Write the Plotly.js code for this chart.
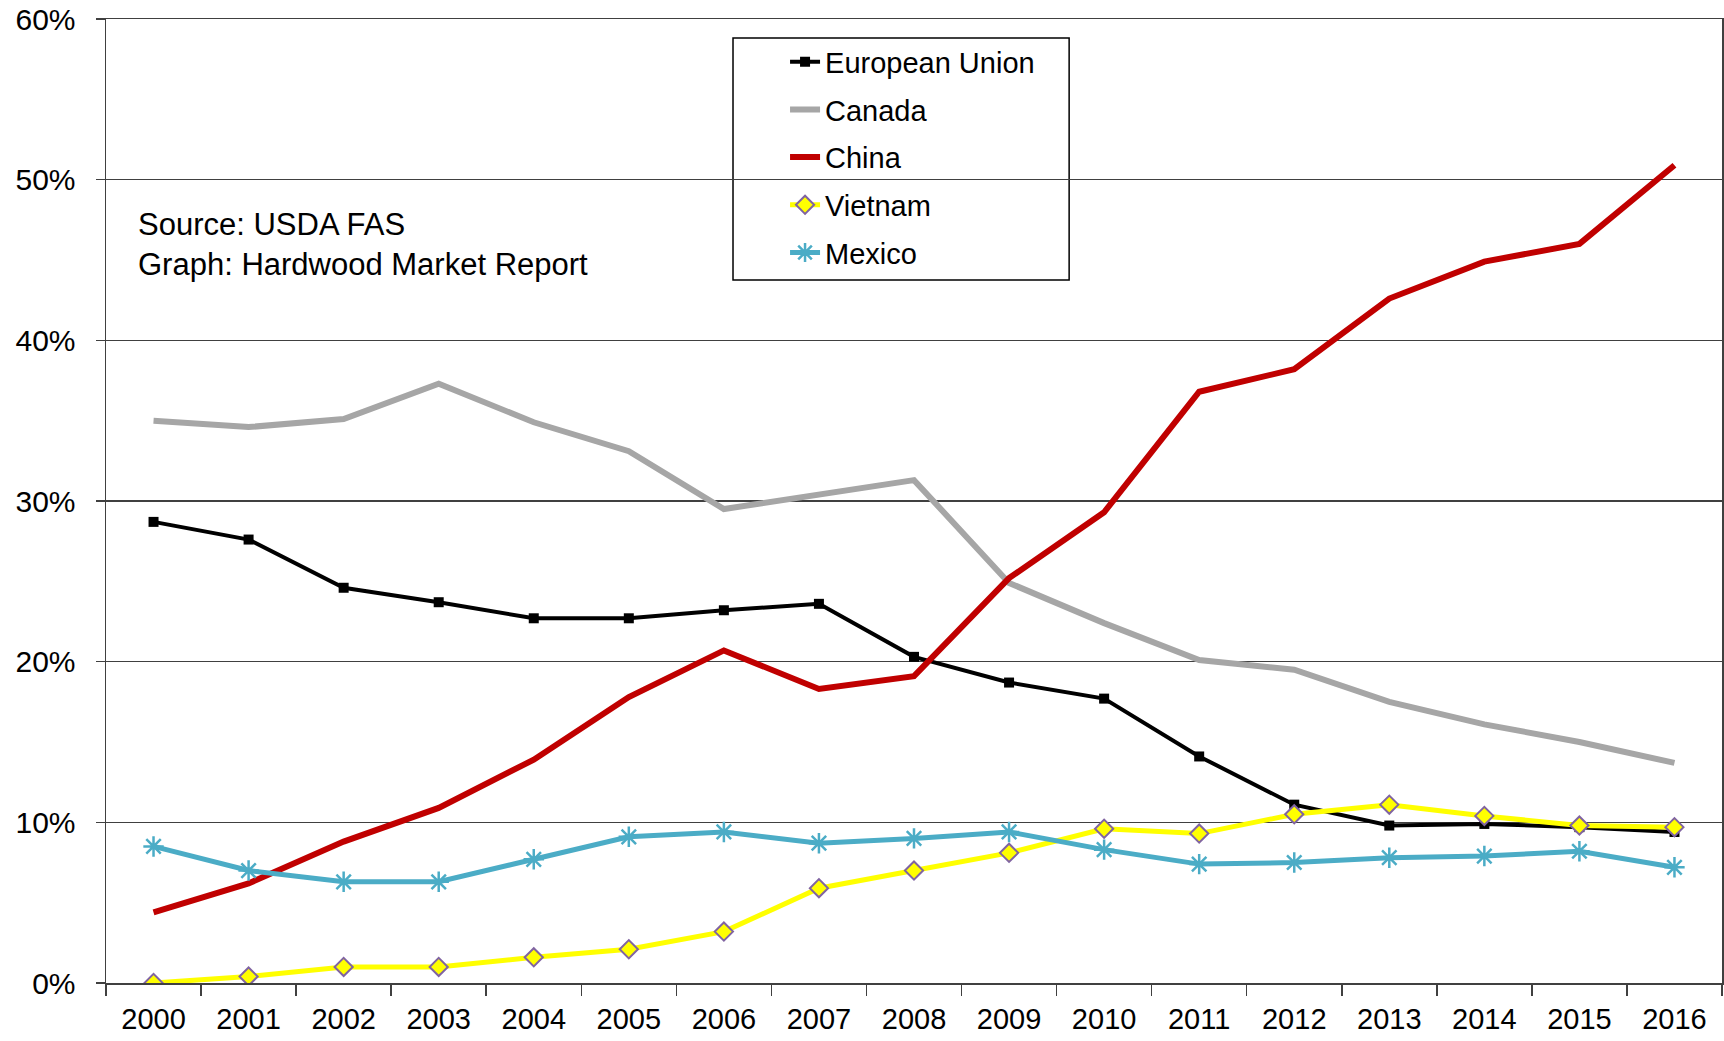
<!DOCTYPE html>
<html>
<head>
<meta charset="utf-8">
<script src="https://cdn.plot.ly/plotly-3.0.1.min.js"></script>
<style>
html,body{margin:0;padding:0;background:#fff;}
#chart{width:1724px;height:1041px;}
</style>
</head>
<body>
<div id="chart"></div>
<script>
const years = ["2000","2001","2002","2003","2004","2005","2006","2007","2008","2009","2010","2011","2012","2013","2014","2015","2016"];
const europeanUnion = [0.287,0.276,0.246,0.237,0.227,0.227,0.232,0.236,0.203,0.187,0.177,0.141,0.111,0.098,0.099,0.097,0.094];
const canada = [0.350,0.346,0.351,0.373,0.349,0.331,0.295,0.304,0.313,0.249,0.224,0.201,0.195,0.175,0.161,0.150,0.137];
const china = [0.044,0.062,0.088,0.109,0.139,0.178,0.207,0.183,0.191,0.252,0.293,0.368,0.382,0.426,0.449,0.460,0.509];
const vietnam = [0.000,0.004,0.010,0.010,0.016,0.021,0.032,0.059,0.070,0.081,0.096,0.093,0.105,0.111,0.104,0.098,0.097];
const mexico = [0.085,0.070,0.063,0.063,0.077,0.091,0.094,0.087,0.090,0.094,0.083,0.074,0.075,0.078,0.079,0.082,0.072];
const seriesNames = ["European Union","Canada","China","Vietnam","Mexico"];
const yTicks = [0,0.1,0.2,0.3,0.4,0.5,0.6];
const noteText = "Source: USDA FAS<br>Graph: Hardwood Market Report";

const FONT = "Liberation Sans, Arial, sans-serif";

const traces = [
  {x: years, y: europeanUnion, name: seriesNames[0], type: "scatter", mode: "lines+markers",
   line: {color: "#000000", width: 4}, marker: {symbol: "square", size: 10, color: "#000000"}, legendgroup: "a"},
  {x: years, y: canada, name: seriesNames[1], type: "scatter", mode: "lines",
   line: {color: "#A6A6A6", width: 6}, legendgroup: "b"},
  {x: years, y: china, name: seriesNames[2], type: "scatter", mode: "lines",
   line: {color: "#C00000", width: 6}, legendgroup: "c"},
  {x: years, y: vietnam, name: seriesNames[3], type: "scatter", mode: "lines+markers",
   line: {color: "#FFFF00", width: 5},
   marker: {symbol: "diamond", size: 14, color: "#FFFF00", line: {color: "#8064A2", width: 2}}, legendgroup: "d"},
  {x: years, y: mexico, name: seriesNames[4], type: "scatter", mode: "lines+markers",
   line: {color: "#4BACC6", width: 5},
   marker: {symbol: "asterisk-open", size: 17, color: "#4BACC6", line: {color: "#4BACC6", width: 2.5}}, legendgroup: "e"}
];

const layout = {
  width: 1724, height: 1041,
  margin: {l: 106, r: 2, t: 19, b: 58},
  paper_bgcolor: "#ffffff", plot_bgcolor: "#ffffff",
  font: {family: FONT, size: 30, color: "#000000"},
  showlegend: true,
  legend: {
    x: 0.4202, xanchor: "left", y: 0.982, yanchor: "top",
    bgcolor: "rgba(0,0,0,0)", borderwidth: 0,
    font: {family: FONT, size: 29, color: "#000000"},
    traceorder: "grouped", tracegroupgap: 7, itemwidth: 30
  },
  xaxis: {
    type: "category", range: [-0.5, 16.5], tickson: "boundaries", ticks: "outside", ticklen: 11, tickwidth: 1.5,
    tickcolor: "#404040", showline: true, linecolor: "#404040", linewidth: 1.5, mirror: true,
    showgrid: false, zeroline: false, ticklabelstandoff: 10,
    tickfont: {family: FONT, size: 29, color: "#000000"}, fixedrange: true
  },
  yaxis: {
    range: [0, 0.6], tickvals: yTicks, tickformat: ".0%", ticks: "outside", ticklen: 9, tickwidth: 1.5,
    tickcolor: "#404040", showline: true, linecolor: "#404040", linewidth: 1.5, mirror: true,
    showgrid: true, gridcolor: "#404040", gridwidth: 1.2, zeroline: false, ticklabelstandoff: 14,
    tickfont: {family: FONT, size: 30, color: "#000000"}, fixedrange: true
  },
  shapes: [{
    type: "rect", xref: "paper", yref: "paper", layer: "between",
    x0: 0.388, x1: 0.596, y0: 0.7293, y1: 0.9803,
    fillcolor: "#ffffff", line: {color: "#000000", width: 1.5}
  }],
  annotations: [{
    xref: "paper", yref: "paper", x: 0.0185, y: 0.807, xanchor: "left", yanchor: "top",
    text: noteText, showarrow: false, align: "left",
    font: {family: FONT, size: 31, color: "#000000"}
  }]
};

Plotly.newPlot("chart", traces, layout, {displayModeBar: false, staticPlot: true});
</script>
</body>
</html>
